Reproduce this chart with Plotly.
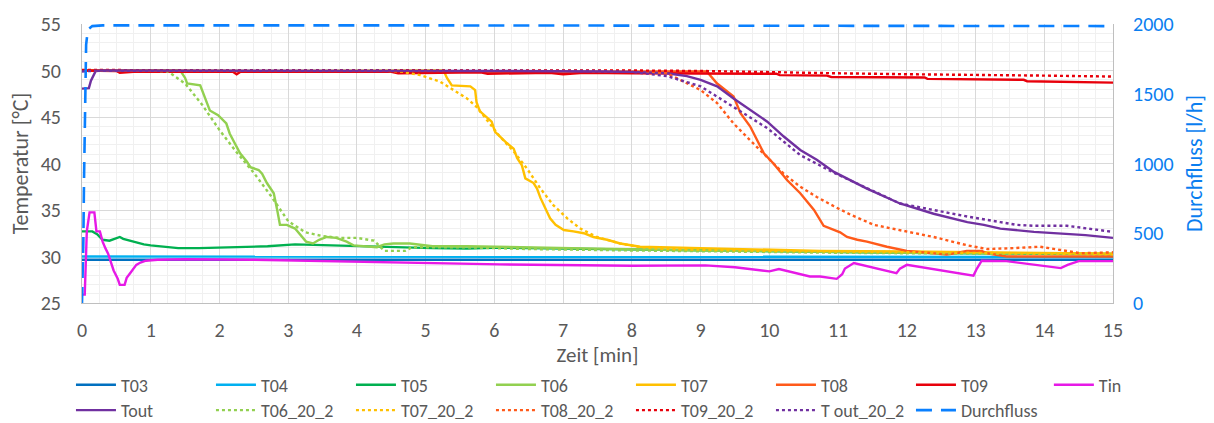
import plotly.graph_objects as go

# ---- measured series (time in min, temperature in °C, flow in l/h) ----
t_t03 = [0, 3, 6, 9, 12, 15]
v_t03 = [29.65, 29.65, 29.6, 29.6, 29.6, 29.65]

t_t04 = [0, 3, 6, 9, 12, 15]
v_t04 = [30.0, 30.0, 30.0, 29.95, 29.95, 29.95]

t_t05 = [0, 0.15, 0.22, 0.3, 0.4, 0.5, 0.55, 0.6, 0.75, 0.9, 1.0, 1.2, 1.4, 1.7, 2.0, 2.5, 2.7,
         3.1, 3.6, 4.1, 5.1, 5.6, 6.1, 7.0, 8.0, 9.0, 10.0, 10.7, 12.0, 13.0, 14.0, 15.0]
v_t05 = [32.7, 32.7, 32.4, 31.8, 31.7, 32.0, 32.1, 31.9, 31.6, 31.3, 31.2, 31.05, 30.9, 30.9, 30.95,
         31.0, 31.1, 31.3, 31.2, 31.05, 30.9, 30.85, 30.95, 30.85, 30.75, 30.7, 30.55, 30.5,
         30.4, 30.35, 30.3, 30.25]

t_t06 = [0, 1.0, 1.43, 1.5, 1.53, 1.72, 1.76, 1.81, 1.86, 1.98, 2.1, 2.15, 2.2, 2.3, 2.4, 2.45,
         2.57, 2.62, 2.69, 2.79, 2.84, 2.88, 2.98, 3.1, 3.26, 3.36, 3.45, 3.56, 3.7, 3.85, 3.95,
         4.29, 4.4, 4.53, 4.77, 5.1, 5.6, 6.5, 7.5, 9.0, 10.5, 12.0, 13.5, 15.0]
v_t06 = [50.0, 50.0, 50.0, 49.2, 48.6, 48.4, 47.6, 46.8, 45.7, 45.2, 44.3, 43.2, 42.5, 41.1, 40.2,
         39.6, 39.3, 38.9, 37.9, 36.8, 35.0, 33.4, 33.4, 33.0, 31.6, 31.4, 31.8, 32.1, 32.0, 31.6,
         31.2, 31.0, 31.3, 31.4, 31.4, 31.1, 31.1, 30.95, 30.85, 30.65, 30.5, 30.4, 30.35, 30.3]

t_t07 = [0, 3.0, 5.26, 5.31, 5.38, 5.65, 5.72, 5.74, 5.79, 5.89, 5.96, 6.01, 6.08, 6.18, 6.28,
         6.33, 6.4, 6.45, 6.57, 6.62, 6.67, 6.74, 6.81, 6.89, 7.01, 7.15, 7.3, 7.44, 7.64, 7.83,
         8.12, 9.0, 10.74, 12.0, 13.5, 15.0]
v_t07 = [50.0, 49.95, 50.0, 49.2, 48.4, 48.3, 47.9, 46.6, 45.6, 45.0, 44.5, 43.4, 42.9, 42.2, 41.6,
         40.6, 39.8, 38.4, 37.9, 37.3, 36.3, 35.2, 34.1, 33.4, 32.85, 32.7, 32.5, 32.1, 31.8, 31.4,
         31.05, 30.9, 30.6, 30.55, 30.45, 30.3]

t_t08 = [0, 3.0, 6.0, 8.5, 9.09, 9.24, 9.48, 9.58, 9.72, 9.92, 10.06, 10.26, 10.45, 10.65, 10.79,
         11.03, 11.13, 11.28, 11.42, 11.71, 12.0, 12.3, 12.58, 12.75, 12.87, 13.09, 13.17, 13.45,
         14.0, 14.7, 15.0]
v_t08 = [50.0, 49.9, 49.85, 49.9, 49.9, 48.6, 47.2, 45.4, 44.0, 41.1, 40.0, 38.2, 36.8, 35.0, 33.3,
         32.6, 32.1, 31.8, 31.6, 31.05, 30.6, 30.4, 30.2, 30.4, 30.6, 30.6, 30.35, 30.0, 30.0,
         30.0, 30.0]

t_t09 = [0, 0.5, 0.55, 0.8, 1.4, 2.2, 2.25, 2.3, 3.0, 4.5, 4.6, 5.8, 5.9, 6.8, 7.0, 7.3, 8.0, 8.5,
         9.0, 10.1, 10.15, 10.84, 10.9, 12.26, 12.3, 13.0, 13.7, 13.75, 14.5, 15.0]
v_t09 = [50.0, 49.95, 49.75, 49.9, 49.85, 49.85, 49.6, 49.85, 49.85, 49.85, 49.7, 49.8, 49.65,
         49.75, 49.6, 49.75, 49.7, 49.7, 49.7, 49.65, 49.5, 49.45, 49.3, 49.25, 49.1, 49.05, 49.0,
         48.85, 48.8, 48.7]

t_tin = [0, 0.04, 0.07, 0.11, 0.18, 0.21, 0.26, 0.3, 0.34, 0.38, 0.42, 0.46, 0.52, 0.55, 0.62,
         0.65, 0.7, 0.74, 0.79, 0.85, 0.93, 1.1, 1.5, 2.5, 3.5, 5.0, 6.08, 8.0, 9.07, 9.5, 10.0,
         10.14, 10.59, 10.74, 10.98, 11.06, 11.1, 11.23, 11.85, 11.9, 12.0, 12.97, 13.02, 13.09,
         13.45, 14.24, 14.34, 14.5, 15.0]
v_tin = [25.9, 25.9, 32.7, 34.75, 34.75, 32.7, 32.7, 31.6, 30.9, 30.3, 29.4, 28.5, 27.6, 26.95,
         26.95, 27.7, 28.2, 28.6, 29.1, 29.35, 29.55, 29.65, 29.7, 29.65, 29.5, 29.3, 29.15, 29.0,
         29.05, 28.85, 28.4, 28.65, 27.85, 27.85, 27.6, 28.1, 28.7, 29.3, 28.2, 28.7, 29.1, 27.95,
         28.7, 29.55, 29.5, 28.75, 29.1, 29.5, 29.5]

t_tout = [0, 0.1, 0.13, 0.17, 0.2, 0.3, 3.0, 6.0, 7.54, 8.0, 8.51, 8.8, 9.0, 9.24, 9.48, 9.72,
          9.97, 10.21, 10.45, 10.69, 10.94, 11.42, 11.9, 12.39, 12.88, 13.12, 13.36, 13.85, 14.33,
          14.6, 15.0]
v_tout = [48.05, 48.1, 48.9, 49.5, 49.95, 50.0, 50.0, 49.95, 49.9, 49.85, 49.7, 49.4, 49.0, 48.3,
          47.0, 45.75, 44.5, 42.9, 41.45, 40.4, 39.1, 37.3, 35.7, 34.6, 33.7, 33.4, 33.0, 32.65,
          32.45, 32.3, 32.0]

t_t06_20_2 = [0, 1.0, 1.25, 1.5, 1.75, 2.0, 2.25, 2.5, 2.75, 3.0, 3.25, 3.5, 3.75, 4.0, 4.25,
              4.4, 4.7, 4.8, 5.5, 6.5, 8.0, 9.5, 11.0, 13.0, 15.0]
v_t06_20_2 = [50.0, 50.0, 49.9, 48.6, 46.3, 43.6, 41.2, 39.0, 36.5, 33.8, 32.6, 32.2, 32.0, 32.0,
              31.7, 30.6, 30.6, 31.0, 31.0, 30.8, 30.65, 30.5, 30.4, 30.3, 30.25]

t_t07_20_2 = [0, 3.0, 4.34, 4.63, 4.92, 5.21, 5.4, 5.6, 5.74, 5.89, 6.08, 6.28, 6.47, 6.67, 6.86,
              7.06, 7.25, 7.49, 7.83, 8.12, 8.5, 10.0, 12.0, 13.5, 15.0]
v_t07_20_2 = [50.0, 50.0, 50.0, 49.9, 49.5, 48.8, 47.9, 47.0, 46.1, 44.7, 42.9, 41.3, 39.5, 37.3,
              35.5, 34.1, 33.0, 32.1, 31.4, 31.0, 30.8, 30.6, 30.45, 30.3, 30.25]

t_t08_20_2 = [0, 4.0, 8.0, 8.51, 9.0, 9.24, 9.48, 9.72, 9.97, 10.21, 10.45, 10.69, 10.94, 11.18,
              11.52, 11.9, 12.39, 12.88, 13.17, 13.55, 13.94, 14.24, 14.53, 15.0]
v_t08_20_2 = [50.0, 50.0, 49.95, 49.7, 47.9, 46.5, 44.3, 42.5, 40.7, 38.9, 37.5, 36.4, 35.4, 34.5,
              33.4, 32.85, 32.1, 31.2, 30.8, 30.9, 31.05, 30.7, 30.35, 30.45]

t_t09_20_2 = [0, 4.0, 8.0, 9.0, 10.0, 11.0, 12.0, 13.0, 14.0, 15.0]
v_t09_20_2 = [50.05, 50.05, 50.0, 49.95, 49.8, 49.7, 49.6, 49.55, 49.45, 49.35]

t_tout_20_2 = [0, 0.15, 0.25, 4.0, 7.5, 8.0, 8.51, 9.0, 9.48, 9.97, 10.45, 10.94, 11.9, 12.39,
               12.88, 13.36, 13.6, 13.85, 14.33, 15.0]
v_tout_20_2 = [49.9, 49.95, 50.0, 50.0, 49.95, 49.85, 49.4, 48.3, 46.1, 43.8, 40.9, 39.0, 35.7,
               35.0, 34.3, 33.7, 33.4, 33.3, 33.3, 32.65]

t_flow = [0, 0.01, 0.02, 0.03, 0.04, 0.05, 0.06, 0.08, 0.1, 0.15, 0.3, 5.0, 10.0, 15.0]
v_flow = [0, 150, 450, 900, 1300, 1650, 1850, 1940, 1965, 1985, 1990, 1990, 1990, 1985]

FONT = "Carlito, Lato, sans-serif"
GREY = "#595959"
BLUE_AX = "#0A7EF0"

fig = go.Figure()


def add(name, t, v, color, dash="solid", legend="legend", yaxis="y", width=2.4):
    fig.add_trace(go.Scatter(
        x=t, y=v, name=name, mode="lines", yaxis=yaxis, legend=legend,
        line=dict(color=color, width=width, dash=dash),
    ))


# first legend row (Tin gets its own legend box at the row's end)
add("T03", t_t03, v_t03, "#0070C0")
add("T04", t_t04, v_t04, "#00B0F0")
add("T05", t_t05, v_t05, "#00B050")
add("T06", t_t06, v_t06, "#92D050")
add("T07", t_t07, v_t07, "#FFC000")
add("T08", t_t08, v_t08, "#FF5A1A")
add("T09", t_t09, v_t09, "#E8000B")
add("Tin", t_tin, v_tin, "#E619E6", legend="legend3")
# second legend row
add("Tout", t_tout, v_tout, "#7030A0", legend="legend2")
add("T06_20_2", t_t06_20_2, v_t06_20_2, "#92D050", dash="dot", legend="legend2")
add("T07_20_2", t_t07_20_2, v_t07_20_2, "#FFC000", dash="dot", legend="legend2")
add("T08_20_2", t_t08_20_2, v_t08_20_2, "#FF5A1A", dash="dot", legend="legend2")
add("T09_20_2", t_t09_20_2, v_t09_20_2, "#E8000B", dash="dot", legend="legend2")
add("T out_20_2", t_tout_20_2, v_tout_20_2, "#7030A0", dash="dot", legend="legend2")
add("Durchfluss", t_flow, v_flow, "#0A80FF", dash="16px,9px", legend="legend2", yaxis="y2", width=2.6)

legend_common = dict(
    orientation="h", xanchor="left", yanchor="middle",
    font=dict(family=FONT, size=18, color=GREY),
    itemwidth=40, entrywidth=85, entrywidthmode="pixels",
    bgcolor="rgba(0,0,0,0)", tracegroupgap=0,
)

ROW1_Y = -0.294
ROW2_Y = -0.385
LEG_X = -0.0107
COL_W = 139.7 / 1031  # one legend column as a fraction of the plot width

fig.update_layout(
    width=1214, height=423,
    margin=dict(l=82, r=101, t=24, b=120, autoexpand=False),
    paper_bgcolor="white", plot_bgcolor="white",
    font=dict(family=FONT, color=GREY),
    showlegend=True,
    legend=dict(x=LEG_X, y=ROW1_Y, **legend_common),
    legend3=dict(x=LEG_X + 7 * COL_W, y=ROW1_Y, **legend_common),
    legend2=dict(x=LEG_X, y=ROW2_Y, **legend_common),
    xaxis=dict(
        range=[0, 15], dtick=1, tick0=0, showgrid=True, gridcolor="#D9D9D9", gridwidth=1,
        minor=dict(dtick=0.25, showgrid=True, gridcolor="#F0F0F0", gridwidth=1),
        showline=True, linecolor="#BFBFBF", linewidth=1, ticks="", zeroline=False,
        tickfont=dict(family=FONT, size=20, color=GREY), ticklabelstandoff=9,
        title=dict(text="Zeit [min]", font=dict(family=FONT, size=21, color=GREY), standoff=5),
    ),
    yaxis=dict(
        range=[25, 55], dtick=5, showgrid=True, gridcolor="#D9D9D9", gridwidth=1,
        minor=dict(dtick=1, showgrid=True, gridcolor="#F0F0F0", gridwidth=1),
        showline=True, linecolor="#BFBFBF", linewidth=1, ticks="", zeroline=False,
        tickfont=dict(family=FONT, size=20, color=GREY), ticklabelstandoff=16,
        title=dict(text="Temperatur [°C]", font=dict(family=FONT, size=22, color=GREY), standoff=6),
    ),
    yaxis2=dict(
        range=[0, 2000], dtick=500, overlaying="y", side="right", showgrid=False,
        showline=True, linecolor="#BFBFBF", linewidth=1, ticks="", zeroline=False,
        tickfont=dict(family=FONT, size=20, color=BLUE_AX), ticklabelstandoff=15,
        title=dict(text="Durchfluss [l/h]", font=dict(family=FONT, size=22, color=BLUE_AX), standoff=14),
    ),
)

fig.write_html("out.html")
